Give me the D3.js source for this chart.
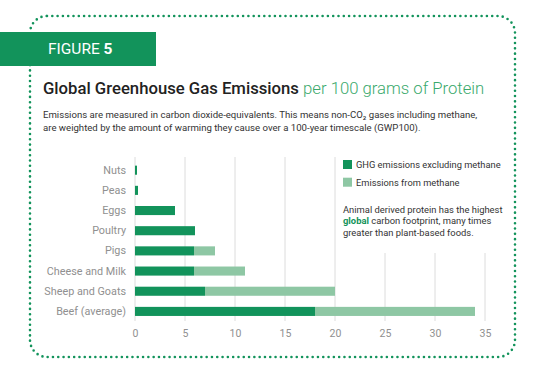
<!DOCTYPE html>
<html><head><meta charset="utf-8">
<script src="https://cdn.jsdelivr.net/npm/d3@7"></script>
<style>
html,body{margin:0;padding:0;background:#fff;}
svg{display:block;font-family:Roboto, "Noto Sans", sans-serif;}
</style></head>
<body>
<svg id="chart" width="541" height="382"></svg>
<script>
const categories = ["Nuts","Peas","Eggs","Poultry","Pigs","Cheese and Milk","Sheep and Goats","Beef (average)"];
const excludingMethane = [0.2, 0.3, 4, 6, 5.9, 5.9, 7, 18];
const fromMethane = [0, 0, 0, 0, 2.1, 5.1, 13, 16];
const xTicks = [0,5,10,15,20,25,30,35];
const seriesNames = ["GHG emissions excluding methane","Emissions from methane"];
const colors = ["#12935b","#8ec7a4"];

const svg = d3.select("#chart");

// dotted frame
svg.append("rect").attr("x",30).attr("y",16).attr("width",485).attr("height",341)
  .attr("rx",17).attr("fill","none").attr("stroke","#12935b").attr("stroke-width",2.6)
  .attr("stroke-linecap","round").attr("stroke-dasharray","0 5.3");

// banner
svg.append("rect").attr("x",0).attr("y",32).attr("width",156).attr("height",34).attr("fill","#12935b");
const fig = svg.append("text").attr("x",48).attr("y",54).attr("fill","#fff").attr("font-size",15.5);
fig.append("tspan").text("FIGURE ");
fig.append("tspan").attr("font-weight",700).text("5");

// title
const title = svg.append("text").attr("x",43).attr("y",94).attr("font-size",16.7);
title.append("tspan").attr("font-weight",500).attr("fill","#222").text("Global Greenhouse Gas Emissions ");
title.append("tspan").attr("font-weight",300).attr("fill","#3aa96c").text("per 100 grams of Protein");

// subtitle
const sub = svg.append("text").attr("x",43).attr("font-size",9.6).attr("fill","#333");
sub.append("tspan").attr("x",43).attr("y",117.5).text("Emissions are measured in carbon dioxide-equivalents. This means non-CO\u2082 gases including methane,");
sub.append("tspan").attr("x",43).attr("y",131).text("are weighted by the amount of warming they cause over a 100-year timescale (GWP100).");

// scales
const x = d3.scaleLinear().domain([0,35]).range([135,485]);
const y = d3.scaleBand().domain(categories).range([160,321.6]).paddingInner(0.55).paddingOuter(0.28);

// grid
svg.append("g").selectAll("line").data(xTicks).join("line")
  .attr("x1",d=>x(d)).attr("x2",d=>x(d)).attr("y1",157).attr("y2",321)
  .attr("stroke","#dcdcdc").attr("stroke-width",1);

// legend background covering grid
svg.append("rect").attr("x",338).attr("y",150).attr("width",170).attr("height",103).attr("fill","#fff");

// bars
const data = categories.map((c,i)=>({c, a:excludingMethane[i], b:fromMethane[i]}));
const g = svg.append("g");
g.selectAll("rect.a").data(data).join("rect").attr("class","a")
  .attr("x",x(0)).attr("y",d=>y(d.c)).attr("height",y.bandwidth())
  .attr("width",d=>x(d.a)-x(0)).attr("fill",colors[0]);
g.selectAll("rect.b").data(data.filter(d=>d.b>0)).join("rect").attr("class","b")
  .attr("x",d=>x(d.a)).attr("y",d=>y(d.c)).attr("height",y.bandwidth())
  .attr("width",d=>x(d.a+d.b)-x(d.a)).attr("fill",colors[1]);

// y axis labels
const yAxis = svg.append("g").attr("transform","translate(126,0)")
  .call(d3.axisLeft(y).tickSize(0).tickPadding(0));
yAxis.select(".domain").remove();
yAxis.selectAll("text").attr("font-size",10.8).attr("fill","#909090").attr("font-family","Roboto");

// x axis labels
const xAxis = svg.append("g").attr("transform","translate(0,322)")
  .call(d3.axisBottom(x).tickValues(xTicks).tickSize(0).tickPadding(8));
xAxis.select(".domain").remove();
xAxis.selectAll("text").attr("font-size",10.5).attr("fill","#909090").attr("font-family","Roboto");

// legend
const lg = svg.append("g");
seriesNames.forEach((n,i)=>{
  lg.append("rect").attr("x",343).attr("y",160+i*17.7).attr("width",9).attr("height",9).attr("fill",colors[i]);
  lg.append("text").attr("x",356).attr("y",168+i*17.7).attr("font-size",9.3).attr("fill","#333").text(n);
});

// annotation
const ann = svg.append("text").attr("font-size",9.4).attr("fill","#333");
ann.append("tspan").attr("x",343).attr("y",212.5).text("Animal derived protein has the highest");
const l2 = ann.append("tspan").attr("x",343).attr("y",224);
l2.append("tspan").attr("font-weight",700).attr("fill","#12935b").text("global");
l2.append("tspan").text(" carbon footprint, many times");
ann.append("tspan").attr("x",343).attr("y",235.5).text("greater than plant-based foods.");
</script>
</body></html>
